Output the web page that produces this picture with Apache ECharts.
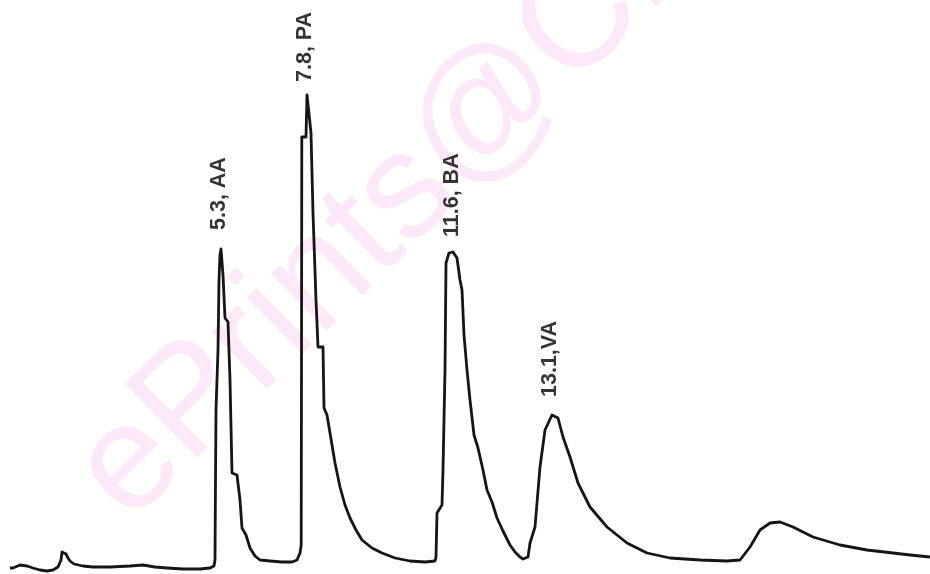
<!DOCTYPE html>
<html>
<head>
<meta charset="utf-8">
<script src="https://cdn.jsdelivr.net/npm/echarts@6/dist/echarts.min.js"></script>
<style>
  html, body { margin: 0; padding: 0; background: #ffffff; }
  #chart { width: 930px; height: 574px; }
</style>
</head>
<body>
<div id="chart"></div>
<script>
// Retention position (arbitrary time units) and detector signal
const baselineStart = [[1.0,0.4],[1.3,0.4],[2.0,1.0],[2.7,0.8],[3.3,0.4],[4.0,0],[4.7,-0.2],[5.3,0],[5.8,0.6],[6.1,2.0],[6.2,3.6],[6.4,3.6],[6.6,3.2],[6.8,2.4],[7.0,1.8],[7.4,1.2],[8.3,0.8],[9.3,0.6],[11.0,0.6],[13.0,0.8],[14.3,1.0],[15.5,0.6],[16.7,0.4],[18.3,0.2],[20.0,0.2],[21.0,0.4],[21.4,0.8]];
const peakAA = [[21.5,2],[21.55,18],[21.6,32],[21.8,44],[21.9,58],[22.0,63],[22.1,64.2],[22.3,59],[22.5,50.4],[22.8,49.6],[23.0,38],[23.2,19.4],[23.7,19],[24.0,14],[24.2,8.4],[24.6,7],[25.0,4.4],[25.5,2.8],[26.0,2],[27.0,1.8],[28.2,1.6],[29.2,1.6],[29.7,2]];
const peakPA = [[30.0,3.4],[30.12,5],[30.15,40],[30.18,86.6],[30.6,86.6],[30.7,95],[30.9,95],[31.1,87.4],[31.3,71.4],[31.6,54],[31.8,44.6],[32.3,44.6],[32.4,32.4],[32.7,31],[33.2,25],[33.5,21.4],[34.0,16.6],[34.5,13],[35.0,10.4],[35.6,8],[36.2,6],[37.2,4.4],[38.2,3.4],[39.5,2.4],[41.0,1.8],[42.5,1.6],[43.5,1.8]];
const peakBA = [[43.6,2.6],[43.7,11.4],[44.2,13],[44.3,20],[44.5,40],[44.6,61.4],[44.9,63.4],[45.3,63.6],[45.7,62.4],[46.0,58],[46.2,56],[46.4,47],[46.7,40],[47.0,34],[47.4,27],[47.8,24.4],[48.3,20],[48.7,16],[49.2,13.6],[49.7,10.4],[50.3,7.8],[51.0,5],[51.5,3.6],[52.0,2.6],[52.3,2.2]];
const peakVA = [[52.8,2.6],[53.0,5.4],[53.5,8.6],[54.0,20.6],[54.5,28],[55.2,31],[55.8,30.4],[56.3,26.6],[57.0,22.6],[57.8,17.4],[59.0,12.6],[60.7,8.6],[62.7,5.4],[64.7,3.4],[67.0,2.4],[70.0,2],[72.7,1.8],[74.0,2]];
const tailBump = [[75.0,4.6],[76.0,8],[77.0,9.4],[78.0,9.6],[79.3,8.6],[81.3,6.6],[84.0,5],[86.7,4],[89.3,3.4],[91.0,3],[93.0,2.6]];

// Peak annotations
const peakLabels = ['5.3, AA', '7.8, PA', '11.6, BA', '13.1,VA'];
const labelTimes = [21.9, 30.5, 45.25, 55.05];
const labelSignals = [68, 97.6, 66.6, 34.6];

const trace = [].concat(baselineStart, peakAA, peakPA, peakBA, peakVA, tailBump);

const chart = echarts.init(document.getElementById('chart'), null, { renderer: 'canvas' });
chart.setOption({
  backgroundColor: '#ffffff',
  animation: false,
  grid: { left: 0, right: 0, top: 0, bottom: 0 },
  xAxis: { type: 'value', min: 0, max: 93, show: false },
  yAxis: { type: 'value', min: -0.8, max: 114, show: false },
  graphic: [{
    type: 'text',
    x: 100, y: 495,
    rotation: 44.5 * Math.PI / 180,
    z: -10,
    silent: true,
    style: {
      text: 'ePrints@CMFRI',
      fill: '#fde8fa',
      font: 'normal 150px Arial, sans-serif',
      textAlign: 'left',
      textVerticalAlign: 'middle'
    }
  }],
  series: [
    {
      type: 'line',
      data: trace,
      showSymbol: false,
      clip: false,
      z: 3,
      lineStyle: { color: '#151515', width: 2.8, join: 'round' }
    },
    {
      type: 'scatter',
      symbolSize: 0,
      z: 4,
      data: labelTimes.map((t, i) => [t, labelSignals[i], i]),
      label: {
        show: true,
        position: 'inside',
        rotate: 90,
        align: 'left',
        verticalAlign: 'middle',
        color: '#000',
        fontFamily: 'Arial, sans-serif',
        fontWeight: 'bold',
        fontSize: 21.5,
        formatter: p => peakLabels[p.value[2]]
      }
    }
  ]
});
</script>
</body>
</html>
